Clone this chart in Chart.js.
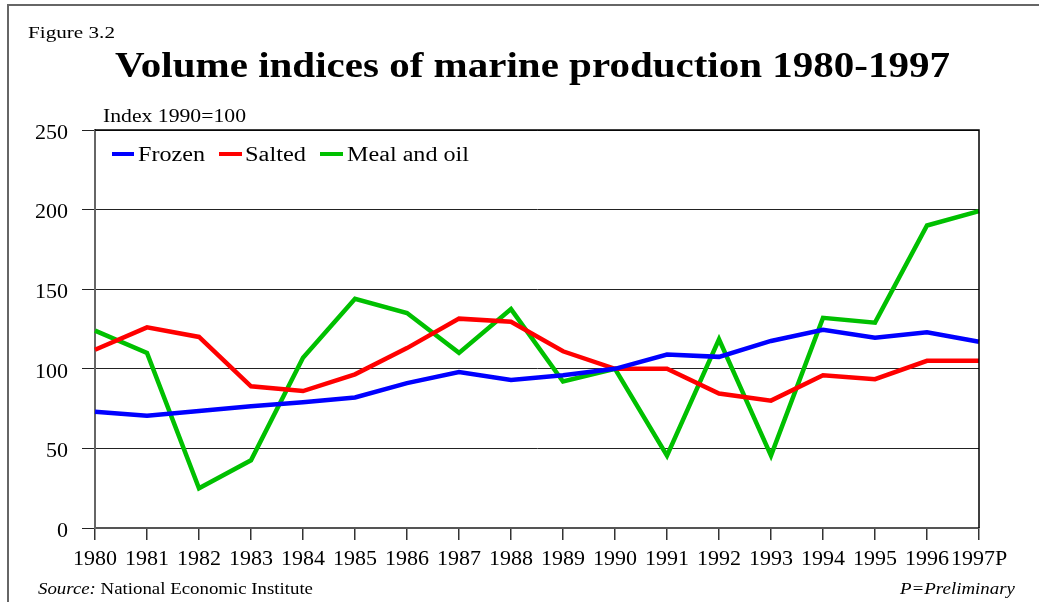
<!DOCTYPE html>
<html>
<head>
<meta charset="utf-8">
<script src="https://cdn.jsdelivr.net/npm/chart.js@4.4.1/dist/chart.umd.min.js"></script>
<style>
  html, body { margin:0; padding:0; background:#fff; }
  body { width:1039px; height:602px; position:relative; overflow:hidden; font-family:"Liberation Serif","Times New Roman",serif; color:#000; }
  #frame { position:absolute; left:7px; top:4px; width:1040px; height:620px; border-left:2px solid #666; border-top:2px solid #666; }
  #chartWrap { position:absolute; left:0; top:0; width:1039px; height:602px; }
  .txt { position:absolute; white-space:nowrap; line-height:1; transform-origin:0 0; }
  .sw { position:absolute; height:4px; }
</style>
</head>
<body>
<div id="frame"></div>
<div id="chartWrap"><canvas id="c" width="1039" height="602"></canvas></div>
<div class="txt fit" data-w="87" style="left:28px; top:24px; font-size:17.5px;">Figure 3.2</div>
<div class="txt fit" data-w="835" style="left:115px; top:47px; font-size:36px; font-weight:bold;">Volume indices of marine production 1980-1997</div>
<div class="txt fit" data-w="143" style="left:103px; top:106px; font-size:19px;">Index 1990=100</div>
<div id="legend"></div>
<div class="txt fit" data-w="275" style="left:38px; top:580px; font-size:17px;"><i>Source:</i> National Economic Institute</div>
<div class="txt fit" data-w="115" style="left:900px; top:580px; font-size:17px; font-style:italic;">P=Preliminary</div>
<script>
const years = ["1980","1981","1982","1983","1984","1985","1986","1987","1988","1989","1990","1991","1992","1993","1994","1995","1996","1997P"];
const frozen = [73, 70.5, 73.5, 76.5, 79, 82, 91, 98, 93, 96, 100, 109, 107.5, 117.5, 124.5, 119.5, 123, 117];
const salted = [112, 126, 120, 89, 86, 96.5, 113, 131.5, 129.5, 111, 100, 100, 84.5, 80, 96, 93.5, 105, 105];
const mealOil = [124, 110, 25, 42.5, 107, 144, 135, 110, 137.5, 92, 100, 45.5, 118.5, 45.5, 132, 129, 190, 199];
const yTicks = [0, 50, 100, 150, 200, 250];
const seriesNames = ["Frozen", "Salted", "Meal and oil"];
const seriesColors = ["#0000ff", "#ff0000", "#00c000"];

const fam = "'Liberation Serif', 'Times New Roman', serif";

const borderPlugin = {
  id: 'plotBorder',
  afterDraw(chart) {
    const { ctx, chartArea: a } = chart;
    ctx.save();
    ctx.strokeStyle = '#000';
    ctx.lineWidth = 1.5;
    ctx.beginPath();
    ctx.moveTo(a.left, a.top);
    ctx.lineTo(a.right, a.top);
    ctx.lineTo(a.right, a.bottom);
    ctx.stroke();
    ctx.restore();
  }
};

const datasets = [frozen, salted, mealOil].map((d, i) => ({
  label: seriesNames[i],
  data: d,
  borderColor: seriesColors[i],
  backgroundColor: seriesColors[i],
  borderWidth: 4.5,
  pointRadius: 0,
  tension: 0,
  fill: false
}));

new Chart(document.getElementById('c'), {
  type: 'line',
  data: { labels: years, datasets },
  options: {
    responsive: false,
    animation: false,
    devicePixelRatio: 1,
    layout: { padding: { left: 0, top: 130, right: 60, bottom: 0 } },
    plugins: { legend: { display: false }, tooltip: { enabled: false }, title: { display: false } },
    scales: {
      x: {
        type: 'category',
        offset: false,
        grid: { display: true, drawOnChartArea: false, drawTicks: true, tickLength: 12, color: '#333', lineWidth: 1.5 },
        border: { display: true, color: '#555', width: 2 },
        ticks: { font: { family: fam, size: 22 }, color: '#000', padding: 6, maxRotation: 0, autoSkip: false },
        afterFit(s) { s.height = 74; }
      },
      y: {
        min: 0, max: 250,
        afterBuildTicks(s) { s.ticks = yTicks.map(v => ({ value: v })); },
        grid: { display: true, drawOnChartArea: true, drawTicks: true, tickLength: 13, color: '#222', lineWidth: 1 },
        border: { display: true, color: '#666', width: 2 },
        ticks: { font: { family: fam, size: 22 }, color: '#000', padding: 14, labelOffset: 3 },
        afterFit(s) { s.width = 95; }
      }
    }
  },
  plugins: [borderPlugin]
});

// legend (HTML, from series arrays)
const leg = document.getElementById('legend');
const swX = [[112, 134], [219, 242], [320, 343]];
const txX = [138, 245, 347];
const txW = [67, 61, 122];
seriesNames.forEach((n, i) => {
  const sw = document.createElement('div');
  sw.className = 'sw';
  sw.style.left = swX[i][0] + 'px';
  sw.style.width = (swX[i][1] - swX[i][0]) + 'px';
  sw.style.top = '151.5px';
  sw.style.background = seriesColors[i];
  leg.appendChild(sw);
  const t = document.createElement('div');
  t.className = 'txt fit';
  t.dataset.w = txW[i];
  t.style.left = txX[i] + 'px';
  t.style.top = '144px';
  t.style.fontSize = '20px';
  t.textContent = n;
  leg.appendChild(t);
});

document.querySelectorAll('.fit').forEach(el => {
  const w = el.getBoundingClientRect().width;
  const target = parseFloat(el.dataset.w);
  if (w > 0) el.style.transform = 'scaleX(' + (target / w) + ')';
});
</script>
</body>
</html>
